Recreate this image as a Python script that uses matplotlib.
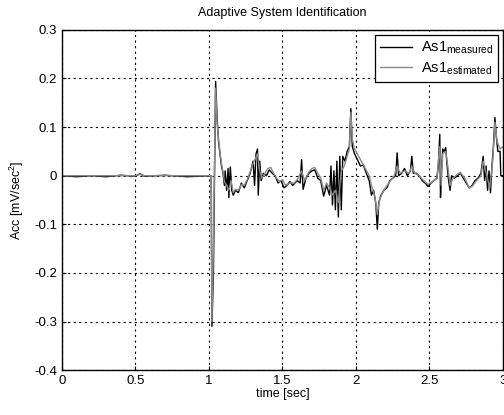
import numpy as np
import matplotlib
matplotlib.use("Agg")
import matplotlib.pyplot as plt

# measured acceleration (time, value)
t_meas = [0.00, 0.10, 0.20, 0.30, 0.40, 0.50, 0.53, 0.56, 0.70, 0.85, 1.00, 1.015,
          1.02, 1.03, 1.04, 1.045, 1.055, 1.065, 1.075, 1.085, 1.095, 1.105, 1.11,
          1.12, 1.13, 1.135, 1.145, 1.155, 1.165, 1.18, 1.20, 1.22, 1.24, 1.26,
          1.28, 1.30, 1.31, 1.32, 1.33, 1.335, 1.345, 1.355, 1.37, 1.39, 1.41,
          1.43, 1.45, 1.47, 1.49, 1.51, 1.53, 1.55, 1.57, 1.60, 1.62, 1.63, 1.64,
          1.66, 1.68, 1.70, 1.72, 1.74, 1.76, 1.78, 1.80, 1.82, 1.83, 1.84, 1.85,
          1.86, 1.87, 1.88, 1.89, 1.90, 1.91, 1.925, 1.94, 1.955, 1.965, 1.975,
          1.99, 2.01, 2.03, 2.05, 2.07, 2.09, 2.105, 2.12, 2.135, 2.145, 2.155,
          2.17, 2.19, 2.21, 2.23, 2.25, 2.27, 2.28, 2.29, 2.31, 2.33, 2.35, 2.37,
          2.38, 2.39, 2.41, 2.43, 2.45, 2.47, 2.49, 2.51, 2.53, 2.55, 2.56, 2.57,
          2.575, 2.58, 2.59, 2.60, 2.61, 2.62, 2.63, 2.64, 2.65, 2.67, 2.69, 2.71,
          2.73, 2.75, 2.77, 2.79, 2.81, 2.83, 2.85, 2.865, 2.875, 2.885, 2.895,
          2.905, 2.915, 2.925, 2.935, 2.945, 2.955, 2.965, 2.98, 2.985, 3.00]
v_meas = [0.000, -0.002, 0.000, -0.002, 0.001, -0.001, 0.004, -0.001, 0.001, -0.002, 0.000, 0.000,
          -0.310, -0.200, 0.060, 0.194, 0.120, 0.070, 0.045, 0.020, 0.005, -0.020, 0.010,
          -0.030, 0.015, -0.045, 0.018, -0.030, -0.040, -0.030, -0.035, -0.015, -0.025, -0.010,
          0.005, 0.030, -0.020, 0.045, 0.055, -0.040, 0.030, -0.010, 0.005, 0.000, 0.012,
          0.005, 0.000, -0.015, -0.010, -0.025, -0.020, -0.012, -0.020, -0.010, -0.015, 0.033, -0.028,
          -0.005, 0.005, 0.010, 0.012, -0.005, -0.010, -0.042, -0.020, -0.040, 0.020, -0.060, 0.010,
          -0.070, 0.030, -0.085, 0.040, -0.070, 0.040, 0.030, 0.050, 0.060, 0.138, 0.060,
          0.045, 0.033, 0.020, 0.022, 0.005, -0.010, -0.040, -0.030, -0.058, -0.110, -0.055,
          -0.040, -0.030, -0.025, -0.010, -0.005, 0.000, 0.047, 0.000, 0.005, 0.015, 0.000, 0.010,
          0.040, 0.005, 0.005, 0.000, -0.010, -0.015, -0.022, -0.015, -0.010, -0.005, 0.020, 0.085,
          -0.045, 0.000, 0.055, 0.050, 0.058, 0.020, -0.010, -0.030, 0.000, -0.005, 0.000, 0.005,
          -0.005, -0.015, -0.025, -0.020, -0.010, -0.005, 0.005, 0.040, -0.010, 0.020, -0.030,
          0.010, -0.035, 0.020, 0.060, 0.120, 0.080, 0.050, 0.050, 0.000, 0.000]

# estimated acceleration (time, value)
t_est = [0.00, 0.50, 0.53, 0.56, 1.00, 1.015, 1.02, 1.03, 1.04, 1.045, 1.055, 1.065,
         1.075, 1.085, 1.095, 1.105, 1.12, 1.135, 1.15, 1.165, 1.18, 1.20, 1.22, 1.24,
         1.26, 1.28, 1.30, 1.32, 1.33, 1.345, 1.36, 1.38, 1.40, 1.42, 1.44, 1.46, 1.48,
         1.50, 1.52, 1.55, 1.58, 1.60, 1.63, 1.65, 1.68, 1.70, 1.72, 1.74, 1.76, 1.78,
         1.80, 1.82, 1.84, 1.86, 1.88, 1.90, 1.92, 1.94, 1.955, 1.965, 1.975, 1.99,
         2.00, 2.09, 2.11, 2.13, 2.145, 2.16, 2.18, 2.20, 2.23, 2.26, 2.28, 2.30, 2.33,
         2.36, 2.38, 2.40, 2.43, 2.46, 2.49, 2.52, 2.55, 2.57, 2.58, 2.59, 2.61, 2.62,
         2.64, 2.66, 2.69, 2.71, 2.74, 2.77, 2.79, 2.82, 2.85, 2.865, 2.89, 2.91, 2.93,
         2.945, 2.96, 2.98, 3.00]
v_est = [0.000, 0.000, 0.003, 0.000, 0.000, 0.000, -0.300, -0.150, 0.080, 0.180, 0.110, 0.075,
         0.048, 0.025, 0.008, -0.012, -0.020, -0.030, -0.010, -0.035, -0.028, -0.030, -0.018, -0.020,
         -0.008, 0.008, 0.025, 0.038, 0.045, 0.010, -0.005, 0.005, 0.015, 0.017, 0.005, -0.005, -0.012,
         -0.008, -0.020, -0.015, -0.015, -0.008, 0.010, -0.010, 0.008, 0.015, 0.017, 0.005, -0.005, -0.030,
         -0.015, -0.025, -0.040, -0.030, -0.055, 0.010, 0.020, 0.040, 0.055, 0.130, 0.075, 0.055,
         0.050, 0.000, -0.025, -0.045, -0.080, -0.050, -0.035, -0.025, -0.012, 0.000, 0.020, 0.005, 0.010,
         0.005, 0.020, 0.005, 0.000, -0.010, -0.018, -0.012, -0.005, 0.060, -0.020, 0.045, 0.050, 0.030,
         -0.020, -0.005, 0.003, 0.007, -0.005, -0.025, -0.022, -0.010, 0.000, 0.030, 0.000, -0.025, 0.030,
         0.110, 0.070, 0.055, 0.060]

x_ticks = [0, 0.5, 1, 1.5, 2, 2.5, 3]
x_labels = ["0", "0.5", "1", "1.5", "2", "2.5", "3"]
y_ticks = [-0.4, -0.3, -0.2, -0.1, 0, 0.1, 0.2, 0.3]
y_labels = ["-0.4", "-0.3", "-0.2", "-0.1", "0", "0.1", "0.2", "0.3"]

plt.rcParams['font.family'] = ['Liberation Sans', 'DejaVu Sans']
plt.rcParams['mathtext.fontset'] = 'custom'
plt.rcParams['mathtext.rm'] = 'Liberation Sans'
plt.rcParams['mathtext.it'] = 'Liberation Sans'

fig = plt.figure(figsize=(5.04, 4.15), dpi=100)
ax = fig.add_axes([0.123, 0.108, 0.875, 0.820])

ax.plot(t_meas, v_meas, color='black', lw=1.0, label=r'As1$_{\mathrm{measured}}$')
ax.plot(t_est, v_est, color='#8a8a8a', lw=1.0, label=r'As1$_{\mathrm{estimated}}$')

ax.set_xlim(0, 3)
ax.set_ylim(-0.4, 0.3)
ax.set_xticks(x_ticks)
ax.set_xticklabels(x_labels)
ax.set_yticks(y_ticks)
ax.set_yticklabels(y_labels)
ax.tick_params(direction='in', length=3, labelsize=9.5, color='black')
ax.grid(True, color='black', linestyle=(0, (2, 3)), linewidth=0.8)
for s in ax.spines.values():
    s.set_linewidth(1.0)

ax.set_title('Adaptive System Identification', fontsize=9, pad=10)
ax.set_xlabel('time [sec]', fontsize=9, labelpad=1)
ax.set_ylabel(r'Acc [mV/sec$^2$]', fontsize=9, labelpad=6)

leg = ax.legend(loc='upper right', fontsize=10.5, handlelength=2.2, handletextpad=0.6,
                fancybox=False, framealpha=1, edgecolor='black', borderaxespad=0.35,
                borderpad=0.35, labelspacing=0.25)
leg.get_frame().set_linewidth(0.9)

fig.savefig('out.png', dpi=100)
